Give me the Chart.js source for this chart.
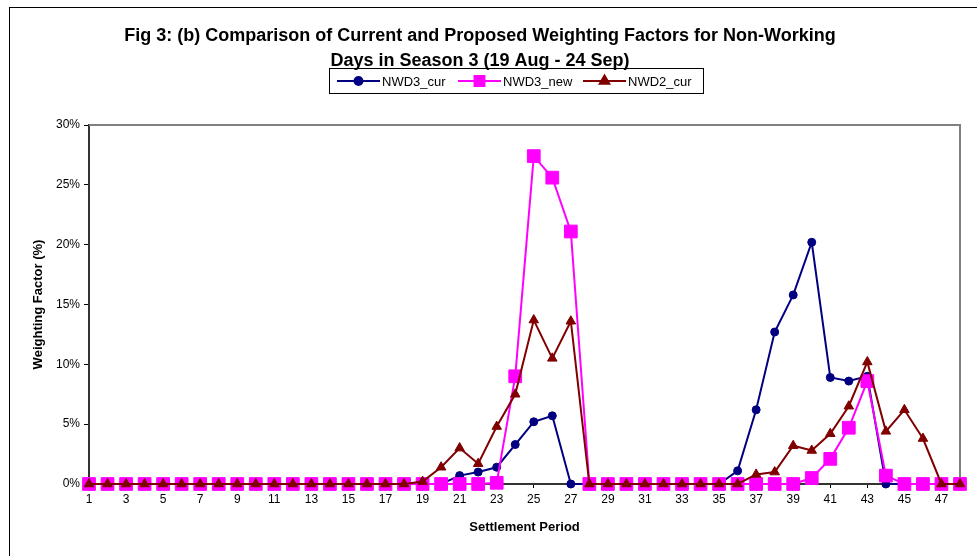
<!DOCTYPE html>
<html>
<head>
<meta charset="utf-8">
<script src="https://cdn.jsdelivr.net/npm/chart.js@4/dist/chart.umd.min.js"></script>
<style>
  body { margin: 0; background: #fff; }
  #wrap { width: 977px; height: 556px; }
</style>
</head>
<body>
<div id="wrap"><canvas id="chart" width="977" height="556"></canvas></div>
<script>
// Settlement periods 1..48
const periods = ['1','2','3','4','5','6','7','8','9','10','11','12','13','14','15','16',
                 '17','18','19','20','21','22','23','24','25','26','27','28','29','30','31','32',
                 '33','34','35','36','37','38','39','40','41','42','43','44','45','46','47','48'];

// Weighting factors in percent
const nwd3Cur = [0,0,0,0,0,0,0,0,0,0,0,0,0,0,0,0,
                 0,0,0,0,0.7,1.0,1.4,3.3,5.2,5.7,0,0,0,0,0,0,
                 0,0,0,1.1,6.2,12.7,15.8,20.2,8.9,8.6,9.0,0,0,0,0,0];
const nwd3New = [0,0,0,0,0,0,0,0,0,0,0,0,0,0,0,0,
                 0,0,0,0,0,0,0.1,9.0,27.4,25.6,21.1,0,0,0,0,0,
                 0,0,0,0,0,0,0,0.5,2.1,4.7,8.6,0.7,0,0,0,0];
const nwd2Cur = [0,0,0,0,0,0,0,0,0,0,0,0,0,0,0,0,
                 0,0,0.2,1.4,3.0,1.7,4.8,7.5,13.7,10.5,13.6,0,0,0,0,0,
                 0,0,0,0,0.8,1.0,3.2,2.8,4.2,6.5,10.2,4.4,6.2,3.8,0,0];

const yTicks = [0, 5, 10, 15, 20, 25, 30];

const seriesNames = ['NWD3_cur', 'NWD3_new', 'NWD2_cur'];
const seriesColors = ['#000080', '#FF00FF', '#800000'];
const seriesMarkers = ['circle', 'rect', 'triangle'];
const markerRadius = [4, 9, 5.5];

const FONT = '"Liberation Sans", Arial, sans-serif';

// frame, plot border and the boxed legend
const decorPlugin = {
    id: 'decor',
    beforeDraw(chart) {
        const ctx = chart.ctx;
        ctx.save();
        ctx.fillStyle = '#fff';
        ctx.fillRect(0, 0, chart.width, chart.height);
        ctx.strokeStyle = '#000';
        ctx.lineWidth = 1;
        ctx.strokeRect(9.5, 7.5, 1000, 600);
        ctx.restore();
    },
    beforeDatasetsDraw(chart) {
        const ctx = chart.ctx;
        const a = chart.chartArea;
        ctx.save();
        ctx.strokeStyle = '#808080';
        ctx.lineWidth = 2;
        ctx.beginPath();
        ctx.moveTo(a.left, a.top);
        ctx.lineTo(a.right, a.top);
        ctx.lineTo(a.right, a.bottom);
        ctx.stroke();
        ctx.restore();
    },
    afterDraw(chart) {
        const ctx = chart.ctx;
        ctx.save();
        ctx.strokeStyle = '#000';
        ctx.lineWidth = 1;
        ctx.strokeRect(329.5, 68.5, 374, 25);
        const starts = [337, 458, 583];
        ctx.font = '13px ' + FONT;
        ctx.textBaseline = 'middle';
        const y = 81;
        starts.forEach((x0, i) => {
            ctx.strokeStyle = seriesColors[i];
            ctx.fillStyle = seriesColors[i];
            ctx.lineWidth = 2;
            ctx.beginPath();
            ctx.moveTo(x0, y);
            ctx.lineTo(x0 + 43, y);
            ctx.stroke();
            Chart.helpers.drawPoint(ctx, {
                pointStyle: seriesMarkers[i],
                radius: i === 1 ? 7 : (i === 0 ? 4 : 5.5),
                borderWidth: 1
            }, x0 + 21.5, y);
            ctx.fill();
            ctx.fillStyle = '#000';
            ctx.fillText(seriesNames[i], x0 + 45, y + 1);
        });
        ctx.restore();
    }
};

const datasets = [nwd3Cur, nwd3New, nwd2Cur].map((vals, i) => ({
    label: seriesNames[i],
    data: vals,
    borderColor: seriesColors[i],
    backgroundColor: seriesColors[i],
    borderWidth: 2,
    pointStyle: seriesMarkers[i],
    pointRadius: markerRadius[i],
    pointBorderWidth: 1,
    pointHoverRadius: markerRadius[i],
    tension: 0,
    clip: false,
    order: 2 - i
}));

new Chart(document.getElementById('chart'), {
    type: 'line',
    data: { labels: periods, datasets: datasets },
    plugins: [decorPlugin],
    options: {
        responsive: false,
        animation: false,
        layout: { padding: { left: 0, right: 17, top: 0, bottom: 0 } },
        plugins: {
            legend: { display: false },
            tooltip: { enabled: false },
            title: {
                display: true,
                text: ['Fig 3: (b) Comparison of Current and Proposed Weighting Factors for Non-Working',
                       'Days in Season 3 (19 Aug - 24 Sep)'],
                color: '#000',
                font: { family: FONT, size: 18, weight: 'bold', lineHeight: '25px' },
                padding: { top: 24, bottom: 51 }
            }
        },
        scales: {
            x: {
                offset: false,
                afterFit(scale) { scale.height = 72; },
                grid: {
                    drawOnChartArea: false,
                    tickLength: 4,
                    color: ctx => (ctx.index % 2 === 0 ? '#000' : 'rgba(0,0,0,0)')
                },
                border: { color: '#333', width: 2 },
                ticks: {
                    autoSkip: false,
                    maxRotation: 0,
                    color: '#000',
                    padding: 4,
                    font: { family: FONT, size: 12 },
                    callback: function(v, i) { return i % 2 === 0 ? this.getLabelForValue(v) : ''; }
                },
                title: {
                    display: true,
                    text: 'Settlement Period',
                    color: '#000',
                    font: { family: FONT, size: 13, weight: 'bold' },
                    padding: { top: 0, bottom: 21 }
                }
            },
            y: {
                min: 0,
                max: 30,
                afterFit(scale) { scale.width = 89; },
                afterBuildTicks(scale) { scale.ticks = yTicks.map(v => ({ value: v })); },
                grid: { drawOnChartArea: false, tickLength: 5, color: '#000' },
                border: { color: '#333', width: 2 },
                ticks: {
                    color: '#000',
                    padding: 4,
                    font: { family: FONT, size: 12 },
                    callback: v => v + '%'
                },
                title: {
                    display: true,
                    text: 'Weighting Factor (%)',
                    color: '#000',
                    font: { family: FONT, size: 13, weight: 'bold' },
                    padding: { top: 31, bottom: 0 }
                }
            }
        }
    }
});
</script>
</body>
</html>
